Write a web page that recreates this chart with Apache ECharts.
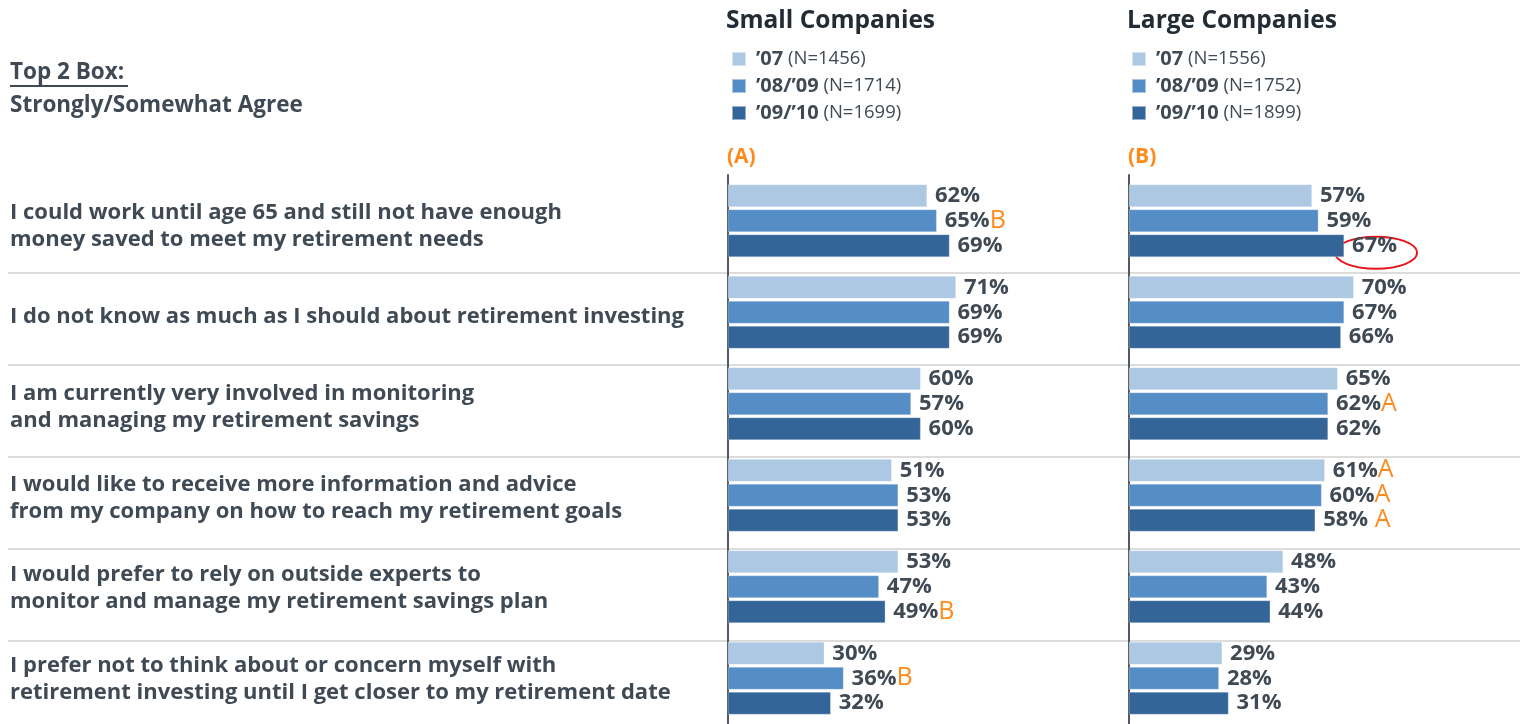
<!DOCTYPE html>
<html>
<head>
<meta charset="utf-8">
<script src="https://cdn.jsdelivr.net/npm/echarts@6/dist/echarts.min.js"></script>
<style>
html, body { margin: 0; padding: 0; background: #fff; }
#main { width: 1520px; height: 724px; }
</style>
</head>
<body>
<div id="main"></div>
<script>
// statements, top to bottom
var categories = [
    'I could work until age 65 and still not have enough\nmoney saved to meet my retirement needs',
    'I do not know as much as I should about retirement investing',
    'I am currently very involved in monitoring\nand managing my retirement savings',
    'I would like to receive more information and advice\nfrom my company on how to reach my retirement goals',
    'I would prefer to rely on outside experts to\nmonitor and manage my retirement savings plan',
    'I prefer not to think about or concern myself with\nretirement investing until I get closer to my retirement date'
];
var years = ['’07', '’08/’09', '’09/’10'];
var smallN = ['1456', '1714', '1699'];
var largeN = ['1556', '1752', '1899'];

var small07 = [62, 71, 60, 51, 53, 30];
var small0809 = [65, 69, 57, 53, 47, 36];
var small0910 = [69, 69, 60, 53, 49, 32];
var large07 = [57, 70, 65, 61, 48, 29];
var large0809 = [59, 67, 62, 60, 43, 28];
var large0910 = [67, 66, 62, 58, 44, 31];

// significance letters shown after the value
var smallMarks = [
    ['', '', '', '', '', ''],
    ['B', '', '', '', '', 'B'],
    ['', '', '', '', 'B', '']
];
var largeMarks = [
    ['', '', '', 'A', '', ''],
    ['', '', 'A', 'A', '', ''],
    ['', '', '', ' A', '', '']
];

var colors = ['#adc8e3', '#558dc6', '#336598'];
var textColor = '#3f4a55';
var FONT = 'Open Sans';
var TOP = 175, BAND = 92;

var chart = echarts.init(document.getElementById('main'));

function barSeries(name, data, marks, idx, axis) {
    return {
        name: name,
        type: 'bar',
        xAxisIndex: axis,
        yAxisIndex: axis,
        data: data,
        barWidth: 22.5,
        barGap: '11%',
        itemStyle: { color: colors[idx], borderColor: 'rgba(255,255,255,0.5)', borderWidth: 0.5 },
        label: {
            show: true,
            position: 'right',
            distance: 8,
            formatter: function (p) {
                var m = marks[idx][p.dataIndex];
                return '{v|' + p.value + '%}' + (m ? '{m|' + m + '}' : '');
            },
            rich: {
                v: { fontFamily: FONT, fontWeight: 'bold', fontSize: 22, color: textColor },
                m: { fontFamily: FONT, fontSize: 25, color: '#ff8a1c' }
            }
        }
    };
}

var smallNames = years.map(function (y, i) { return y + ' (N=' + smallN[i] + ')'; });
var largeNames = years.map(function (y, i) { return y + ' (N=' + largeN[i] + ')'; });

function legend(names, left) {
    return {
        data: names,
        orient: 'vertical',
        left: left,
        top: 49,
        padding: 0,
        itemWidth: 14,
        itemHeight: 14,
        itemGap: 7,
        icon: 'rect',
        selectedMode: false,
        formatter: function (name) {
            var i = name.indexOf(' (');
            return '{y|' + name.slice(0, i) + '}{n|' + name.slice(i) + '}';
        },
        textStyle: {
            rich: {
                y: { fontFamily: FONT, fontWeight: 'bold', fontSize: 20, lineHeight: 20, color: textColor, padding: [0, 0, 0, 5] },
                n: { fontFamily: FONT, fontSize: 18.5, lineHeight: 20, color: textColor }
            }
        }
    };
}

var valueAxis = function (g) { return { type: 'value', gridIndex: g, min: 0, max: 100, show: false }; };
var catAxis = function (g) {
    return {
        type: 'category', gridIndex: g, inverse: true, data: categories,
        axisLine: { show: true, lineStyle: { color: '#505a64', width: 2 } },
        axisTick: { show: false },
        axisLabel: { show: false },
        splitLine: { show: false }
    };
};

var separators = [];
for (var k = 1; k < categories.length; k++) {
    separators.push({
        id: 'sep' + k,
        type: 'line',
        z: -1,
        shape: { x1: 8, y1: TOP + 6 + BAND * k, x2: 1520, y2: TOP + 6 + BAND * k },
        style: { stroke: '#dcdcdc', lineWidth: 2 }
    });
}

var graphics = separators.concat([
    { id: 't1', type: 'text', left: 726, top: 9, style: { text: 'Small Companies', font: 'bold 24.5px "' + FONT + '"', fill: '#232b34' } },
    { id: 't2', type: 'text', left: 1127, top: 9, style: { text: 'Large Companies', font: 'bold 24.5px "' + FONT + '"', fill: '#232b34' } },
    { id: 'a', type: 'text', left: 727, top: 147, style: { text: '(A)', font: 'bold 21px "' + FONT + '"', fill: '#ff8a1c' } },
    { id: 'b', type: 'text', left: 1128, top: 147, style: { text: '(B)', font: 'bold 21px "' + FONT + '"', fill: '#ff8a1c' } },
    { id: 'top2', type: 'text', left: 10, top: 61, style: { text: 'Top 2 Box:', font: 'bold 22.5px "' + FONT + '"', fill: textColor } },
    { id: 'ul', type: 'line', shape: { x1: 10, y1: 86, x2: 128, y2: 86 }, style: { stroke: textColor, lineWidth: 2 } },
    { id: 'agree', type: 'text', left: 10, top: 94, style: { text: 'Strongly/Somewhat Agree', font: 'bold 22.5px "' + FONT + '"', fill: textColor } }
]);

var option = {
    backgroundColor: '#ffffff',
    animation: false,
    legend: [legend(smallNames, 731), legend(largeNames, 1131)],
    grid: [
        { left: 728, top: TOP, width: 321, height: BAND * 6 },
        { left: 1129, top: TOP, width: 321, height: BAND * 6 },
        { left: 10, top: TOP + 6, width: 700, height: BAND * 6 }
    ],
    xAxis: [valueAxis(0), valueAxis(1), valueAxis(2)],
    yAxis: [catAxis(0), catAxis(1), {
        type: 'category', gridIndex: 2, inverse: true, data: categories,
        axisLine: { show: false },
        axisTick: { show: false },
        splitLine: { show: false },
        axisLabel: {
            inside: true, margin: 0, align: 'left',
            fontFamily: FONT, fontWeight: 'bold', fontSize: 22, lineHeight: 27, color: textColor
        }
    }],
    series: [
        barSeries(smallNames[0], small07, smallMarks, 0, 0),
        barSeries(smallNames[1], small0809, smallMarks, 1, 0),
        barSeries(smallNames[2], small0910, smallMarks, 2, 0),
        barSeries(largeNames[0], large07, largeMarks, 0, 1),
        barSeries(largeNames[1], large0809, largeMarks, 1, 1),
        barSeries(largeNames[2], large0910, largeMarks, 2, 1)
    ],
    graphic: { elements: graphics }
};

chart.setOption(option);

// red ring round the large-company '09/'10 value of the first statement
var end = chart.convertToPixel({ xAxisIndex: 1, yAxisIndex: 1 }, [large0910[0], 0]);
chart.setOption({
    graphic: {
        elements: graphics.concat([{
            id: 'ring',
            type: 'ellipse',
            shape: { cx: end[0] + 32, cy: end[1] + 32, rx: 41, ry: 16 },
            style: { fill: 'none', stroke: '#e8141c', lineWidth: 2 }
        }])
    }
});
</script>
</body>
</html>
